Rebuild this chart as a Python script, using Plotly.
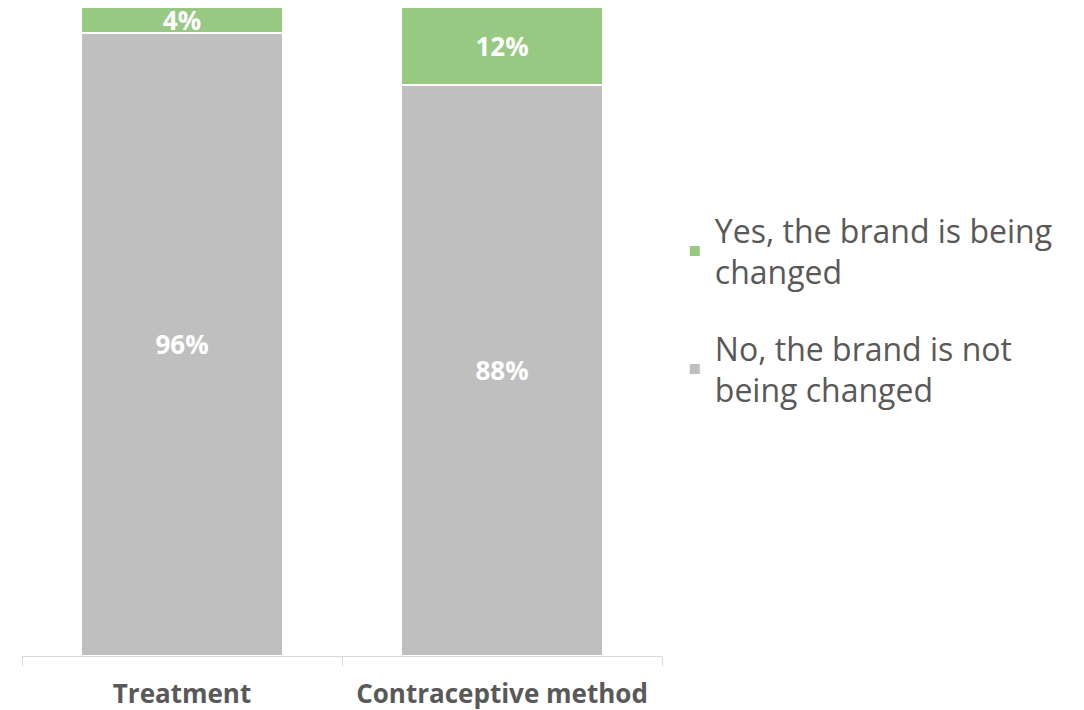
import plotly.graph_objects as go

categories = ["Treatment", "Contraceptive method"]
no_values = [96, 88]
yes_values = [4, 12]
no_name = "No, the brand is not<br>being changed"
yes_name = "Yes, the brand is being<br>changed"

GREY = "#BFBFBF"
GREEN = "#97C983"
TEXT = "#595959"
FONT = "Open Sans, sans-serif"

fig = go.Figure()
fig.add_trace(go.Bar(
    x=categories, y=no_values, name=no_name,
    marker=dict(color=GREY, line=dict(color="white", width=2)),
    text=[f"{v}%" for v in no_values], textposition="inside",
    insidetextanchor="middle", constraintext="none",
    textfont=dict(color="white", size=26, family=FONT, weight="bold"),
    legend="legend3",
))
fig.add_trace(go.Bar(
    x=categories, y=yes_values, name=yes_name,
    marker=dict(color=GREEN, line=dict(color="white", width=2)),
    text=[f"{v}%" for v in yes_values], textposition="inside",
    insidetextanchor="middle", constraintext="none",
    textfont=dict(color="white", size=26, family=FONT, weight="bold"),
    legend="legend2",
))

legend_style = dict(
    xanchor="left", yanchor="top",
    font=dict(size=32, color=TEXT, family=FONT),
    bgcolor="rgba(0,0,0,0)", itemclick=False, itemdoubleclick=False,
)

fig.update_layout(
    barmode="stack",
    bargap=0.37,
    width=1084, height=710,
    margin=dict(l=22, r=422, t=7, b=54),
    paper_bgcolor="white", plot_bgcolor="white",
    font=dict(family=FONT, color=TEXT),
    legend2=dict(x=1.02, y=(656 - 203) / 649, **legend_style),
    legend3=dict(x=1.02, y=(656 - 321) / 649, **legend_style),
    xaxis=dict(
        range=[-0.5, 1.5],
        showline=True, linecolor="#D9D9D9", linewidth=1,
        ticks="outside", tickson="boundaries", ticklen=9, tickcolor="#D9D9D9",
        tickfont=dict(size=26, color=TEXT, family=FONT, weight="bold"),
        ticklabelstandoff=15,
        automargin=False,
        showgrid=False,
    ),
    yaxis=dict(range=[0, 100], visible=False),
)

fig.write_html("out.html")
